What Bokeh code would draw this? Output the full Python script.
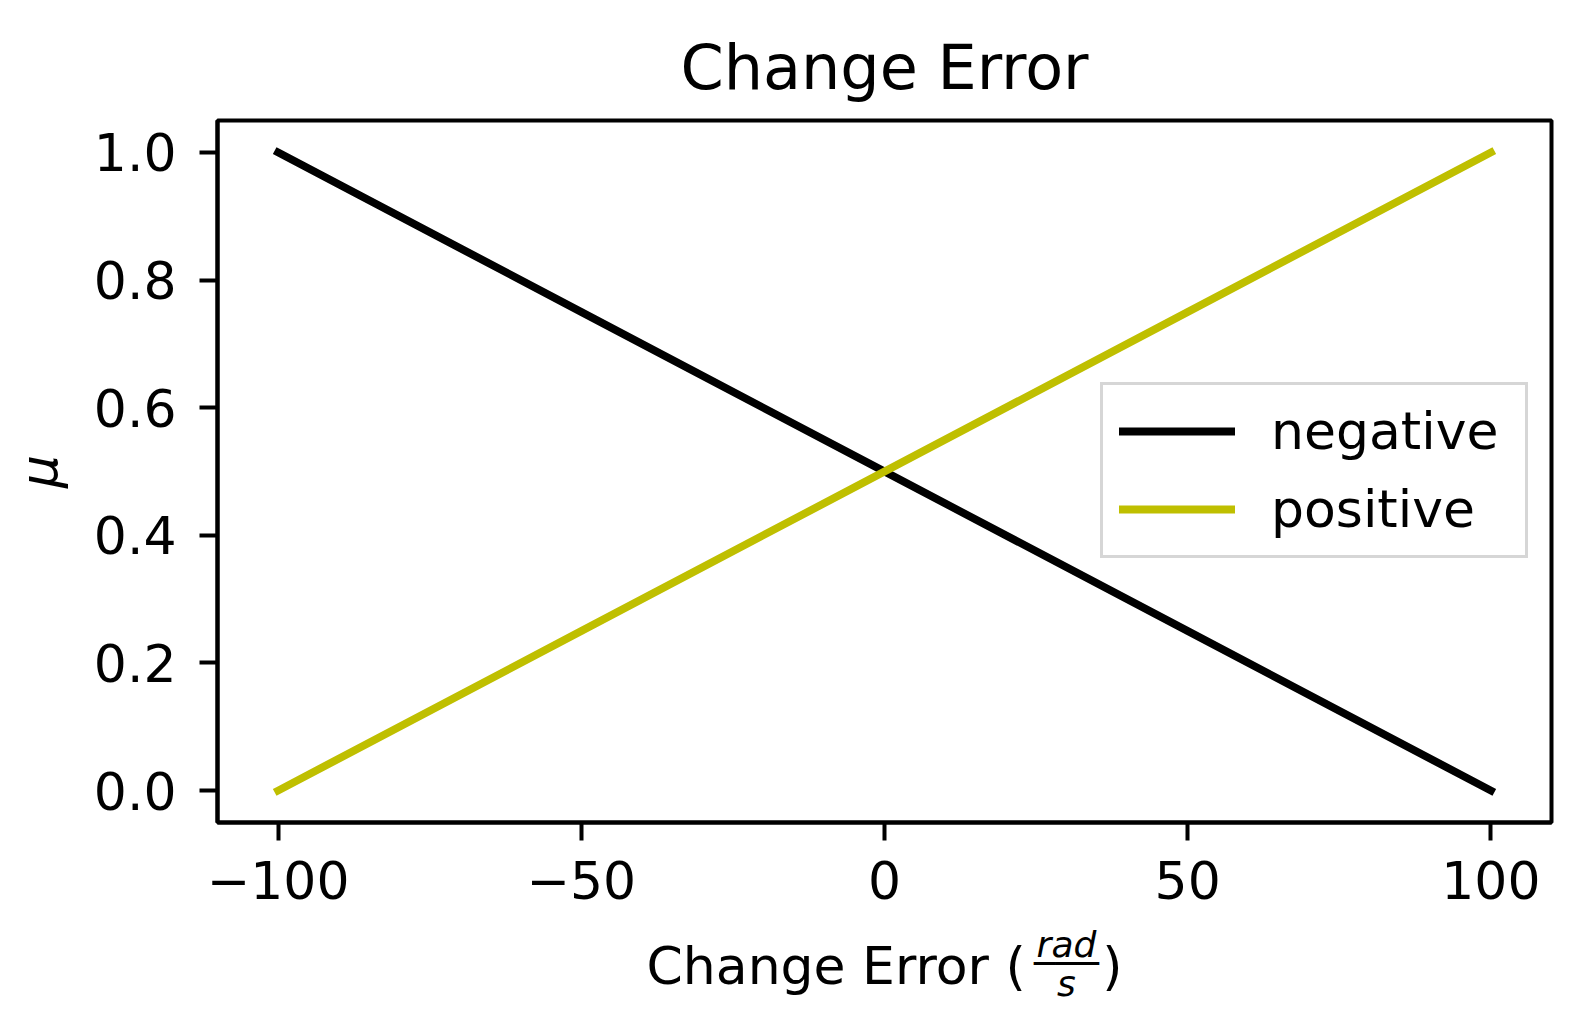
from bokeh.plotting import figure
from bokeh.models import Range1d, FixedTicker, LinearAxis, Legend, LegendItem
from bokeh.embed import file_html
from bokeh.resources import INLINE

# ---- data ----
x_vals = [-100, -50, 0, 50, 100]
negative = [1.0, 0.75, 0.5, 0.25, 0.0]
positive = [0.0, 0.25, 0.5, 0.75, 1.0]
series_names = ["negative", "positive"]
x_ticks = [-100, -50, 0, 50, 100]
x_tick_labels = ["\u2212100", "\u221250", "0", "50", "100"]
y_ticks = [0.0, 0.2, 0.4, 0.6, 0.8, 1.0]
y_tick_labels = ["0.0", "0.2", "0.4", "0.6", "0.8", "1.0"]
title_text = "Change Error"
xlabel_main = "Change Error"
xlabel_num = "rad"
xlabel_den = "s"
ylabel_text = "\u03bc"

FONT = "DejaVu Sans"
W, H = 1580, 1017
FL, FT, FW, FH = 217, 120, 1334, 702
X0, X1, Y0, Y1 = -110, 110, -0.05, 1.05

p = figure(width=W, height=H, output_backend="svg", toolbar_location=None,
           x_range=Range1d(X0, X1), y_range=Range1d(Y0, Y1),
           min_border_left=FL, min_border_right=W - FL - FW,
           min_border_top=FT, min_border_bottom=H - FT - FH)
p.background_fill_color = "white"
p.border_fill_color = "white"
p.outline_line_color = "black"
p.outline_line_width = 4
p.grid.visible = False

p.title.text = title_text
p.title.align = "center"
p.title.text_font = FONT
p.title.text_font_size = "62px"
p.title.text_font_style = "normal"
p.title.text_color = "black"
p.title.standoff = 34

for ax in (p.xaxis[0], p.yaxis[0]):
    ax.axis_line_color = "black"
    ax.axis_line_width = 4
    ax.major_tick_out = 18
    ax.major_tick_in = 0
    ax.major_tick_line_width = 4
    ax.major_tick_line_color = "black"
    ax.minor_tick_line_color = None
    ax.major_label_text_font = FONT
    ax.major_label_text_font_size = "52px"
    ax.major_label_text_color = "black"
    ax.axis_label_text_font = FONT
    ax.axis_label_text_font_size = "52px"
    ax.axis_label_text_color = "black"

NB = "\u00a0"
xa = p.xaxis[0]
xa.ticker = FixedTicker(ticks=x_ticks)
xa.major_label_overrides = {t: l for t, l in zip(x_ticks, x_tick_labels)}
xa.major_label_standoff = 20
xa.axis_label = xlabel_main + NB + "(" + NB * 4 + "\u2009" + ")"
xa.axis_label_text_font_style = "normal"
xa.axis_label_standoff = 34

ya = p.yaxis[0]
ya.ticker = FixedTicker(ticks=y_ticks)
ya.major_label_overrides = {t: l for t, l in zip(y_ticks, y_tick_labels)}
ya.major_label_standoff = 23
ya.axis_label = ylabel_text
ya.axis_label_text_font_style = "italic"
ya.axis_label_standoff = 22

r_neg = p.line(x_vals, negative, line_color="black", line_width=7.8, line_cap="square")
r_pos = p.line(x_vals, positive, line_color="#bfbf00", line_width=7.8, line_cap="square")

legend = Legend(items=[LegendItem(label=series_names[0], renderers=[r_neg]),
                       LegendItem(label=series_names[1], renderers=[r_pos])],
                location=(883, 264))
legend.label_text_font = FONT
legend.label_text_font_size = "52px"
legend.label_text_color = "black"
legend.glyph_width = 116
legend.glyph_height = 50
legend.label_height = 50
legend.label_width = 238
legend.label_standoff = 36
legend.spacing = 18
legend.padding = 16
legend.margin = 0
legend.border_line_color = "#cccccc"
legend.border_line_alpha = 0.8
legend.border_line_width = 3
legend.background_fill_color = "white"
legend.background_fill_alpha = 0.8
p.add_layout(legend, "center")

# fraction rad/s of the x-axis title: a label-only axis pulled up under the title
def dx(px):
    return round(X0 + (px - FL) * (X1 - X0) / FW, 2)

frac_tick = dx(1066)
fa = LinearAxis(ticker=FixedTicker(ticks=[frac_tick], minor_ticks=[]),
                major_label_overrides={frac_tick: xlabel_num + "\n\u2500\u2500\u2500\n" + xlabel_den})
fa.axis_line_color = None
fa.major_tick_line_color = None
fa.minor_tick_line_color = None
fa.major_tick_out = 0
fa.major_tick_in = 0
fa.major_label_standoff = -75
fa.major_label_text_font = FONT
fa.major_label_text_font_size = "36px"
fa.major_label_text_font_style = "italic"
fa.major_label_text_line_height = 0.486
fa.major_label_text_color = "black"
p.add_layout(fa, "below")

open("out.html", "w").write(file_html(p, INLINE))
